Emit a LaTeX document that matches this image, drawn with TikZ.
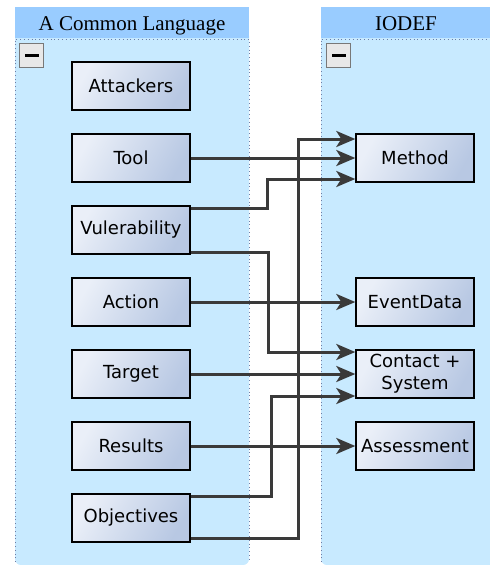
\documentclass[tikz,border=0pt]{standalone}
\usepackage{fontspec}
\setsansfont{DejaVu Sans}
\newfontfamily\headfont{Liberation Serif}
\usetikzlibrary{arrows.meta,calc}

\definecolor{laneHead}{RGB}{153,204,255}
\definecolor{laneBody}{RGB}{200,234,255}
\definecolor{laneEdge}{RGB}{110,125,165}
\definecolor{boxLight}{RGB}{234,239,248}
\definecolor{boxDark}{RGB}{184,200,227}
\definecolor{wire}{RGB}{58,58,58}
\definecolor{btnFill}{RGB}{232,232,232}
\definecolor{btnEdge}{RGB}{120,120,120}

\tikzset{
  entity/.style={draw=black, line width=1.4pt, left color=boxLight, right color=boxDark,
    shading angle=60, minimum width=118pt, minimum height=48pt, inner sep=0pt,
    font=\sffamily\fontsize{18}{22}\selectfont, align=center},
  lanetitle/.style={font=\headfont\fontsize{21}{24}\selectfont, inner sep=0pt},
  conn/.style={draw=wire, line width=3pt, line join=miter,
    -{Stealth[length=19pt,width=16pt,inset=5pt]}},
  lanerule/.style={draw=laneEdge, line width=0.8pt, dash pattern=on 0.8pt off 3pt},
  collapser/.style={draw=btnEdge, line width=1pt, fill=btnFill, minimum size=24pt, inner sep=0pt},
}

\begin{document}
\begin{tikzpicture}[x=1pt, y=-1pt]
  \useasboundingbox (0,0) rectangle (490,565);

  % swimlane bodies (rounded at the bottom; the tops sit under the headers)
  \fill[laneBody, rounded corners=6pt] (15,30) rectangle (249,565);
  \fill[laneBody, rounded corners=6pt] (321,30) rectangle (500,565);
  \draw[lanerule] (15,562) -- (15,39) -- (249,39) -- (249,562);
  \draw[lanerule] (321,562) -- (321,39) -- (490,39);

  % swimlane headers
  \fill[laneHead] (15,7) rectangle (249,38);
  \fill[laneHead] (321,7) rectangle (490,38);
  \node[lanetitle, anchor=base] (hl) at (132,30) {A Common Language};
  \node[lanetitle, anchor=base] (hr) at (406,30) {IODEF};

  % collapse buttons
  \node[collapser] (cl) at (31.5,55.5) {};
  \node[collapser] (cr) at (338.5,55.5) {};
  \fill[black] ($(cl.center)+(-7,-1.5)$) rectangle ($(cl.center)+(7,1.5)$);
  \fill[black] ($(cr.center)+(-7,-1.5)$) rectangle ($(cr.center)+(7,1.5)$);

  % left lane entities
  \node[entity] (att) at (131,86)  {Attackers};
  \node[entity] (tool) at (131,158) {Tool};
  \node[entity] (vul) at (131,230) {Vulerability};
  \node[entity] (act) at (131,302) {Action};
  \node[entity] (tgt) at (131,374) {Target};
  \node[entity] (res) at (131,446) {Results};
  \node[entity] (obj) at (131,518) {Objectives};

  % right lane entities
  \node[entity] (meth) at (415,158) {Method};
  \node[entity] (evt) at (415,302) {EventData};
  \node[entity] (cs) at (415,374) {Contact +\\System};
  \node[entity] (asm) at (415,446) {Assessment};

  % entry points on the right-hand boxes
  \coordinate (m1) at ([yshift=19pt]meth.west);
  \coordinate (m3) at ([yshift=-21pt]meth.west);
  \coordinate (c1) at ([yshift=22pt]cs.west);
  \coordinate (c3) at ([yshift=-22pt]cs.west);

  % vertical runs of the routed wires
  \coordinate (xa) at (298,0);
  \coordinate (xb) at (267,0);
  \coordinate (xc) at (268,0);
  \coordinate (xd) at (271,0);

  % wires
  \draw[conn] ([yshift=-20pt]obj.east) -| (xa |- m1) -- (m1);
  \draw[conn] ([yshift=22pt]vul.east) -| (xb |- m3) -- (m3);
  \draw[conn] ([yshift=-22pt]vul.east) -| (xc |- c1) -- (c1);
  \draw[conn] ([yshift=22pt]obj.east) -| (xd |- c3) -- (c3);
  \draw[conn] (tool.east) -- (meth.west);
  \draw[conn] (act.east) -- (evt.west);
  \draw[conn] (tgt.east) -- (cs.west);
  \draw[conn] (res.east) -- (asm.west);
\end{tikzpicture}
\end{document}
